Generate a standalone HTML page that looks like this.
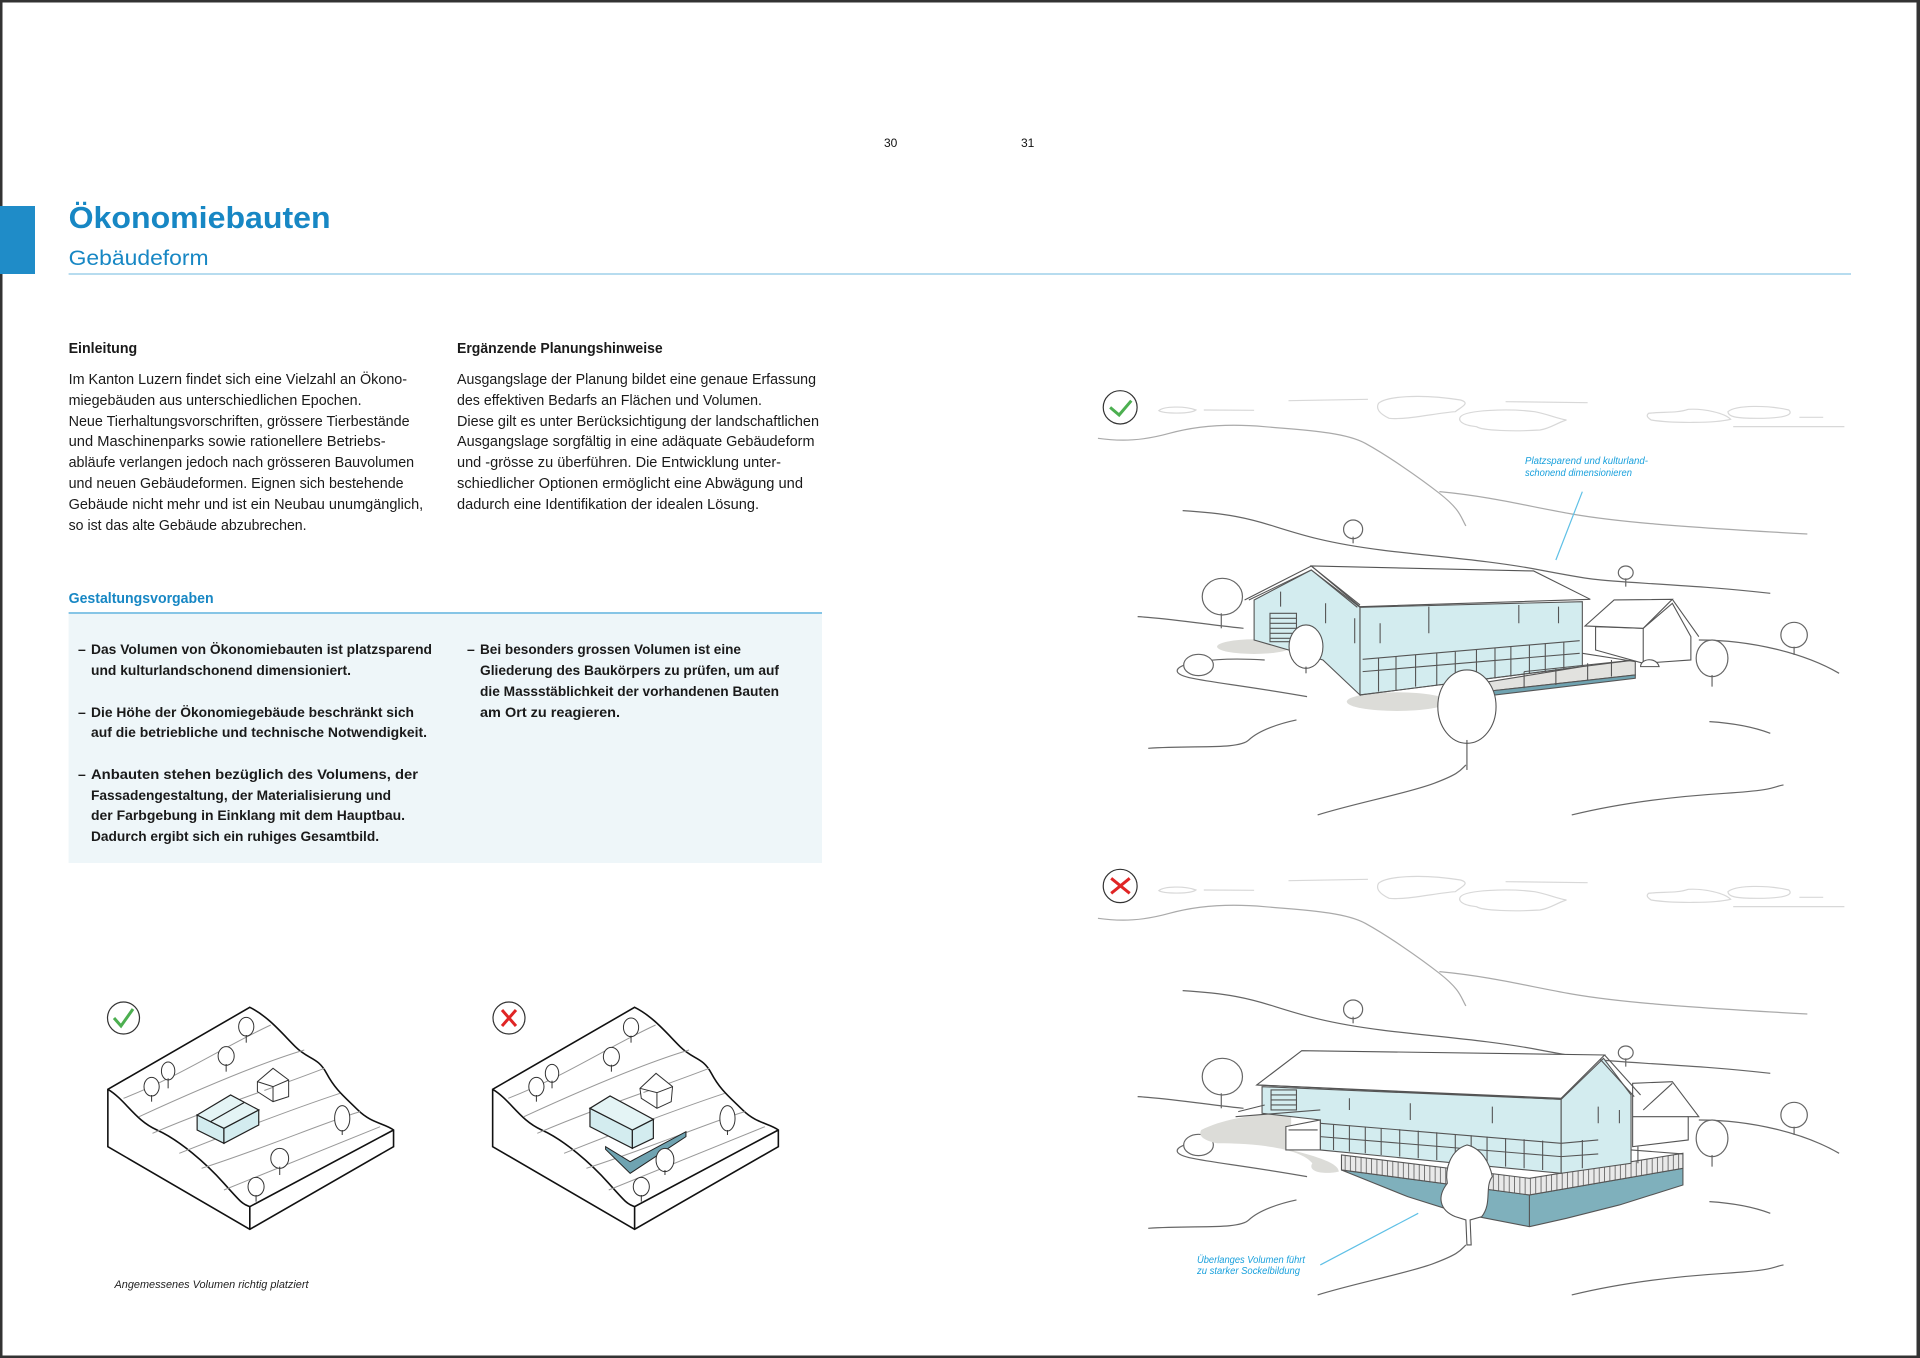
<!DOCTYPE html>
<html><head><meta charset="utf-8"><style>
html,body{margin:0;padding:0;background:#fff}
svg{display:block}
text{font-family:"Liberation Sans",sans-serif}
</style></head><body>
<svg width="1920" height="1358" viewBox="0 0 1920 1358" xmlns="http://www.w3.org/2000/svg">
<defs>
<pattern id="fence" patternUnits="userSpaceOnUse" width="10" height="10"><rect width="10" height="10" fill="#e9e9e9"/><line x1="2" y1="0" x2="2" y2="10" stroke="#555" stroke-width="1.5"/></pattern>
<g id="sky" fill="none" vector-effect="non-scaling-stroke">
 <g stroke="#d8d8d8" stroke-width="1.2">
  <path vector-effect="non-scaling-stroke" d="M130,122 C140,108 180,108 200,120 C190,132 140,132 130,122Z"/>
  <path vector-effect="non-scaling-stroke" d="M215,120 L310,121"/>
  <path vector-effect="non-scaling-stroke" d="M375,92 L525,88"/>
  <path vector-effect="non-scaling-stroke" d="M545,100 C560,80 620,70 700,90 C720,100 700,112 690,125 C650,130 600,150 565,145 C545,130 540,115 545,100Z"/>
  <path vector-effect="non-scaling-stroke" d="M700,140 C710,120 790,115 840,125 C860,130 880,145 900,150 C880,160 870,175 850,180 C800,185 740,182 730,170 C700,165 695,150 700,140Z"/>
  <path vector-effect="non-scaling-stroke" d="M785,95 L940,98"/>
  <path vector-effect="non-scaling-stroke" d="M1055,130 C1080,125 1110,130 1130,118 C1160,115 1200,130 1210,148 C1180,160 1100,160 1060,150 C1050,140 1052,135 1055,130Z"/>
  <path vector-effect="non-scaling-stroke" d="M1205,125 C1220,105 1280,105 1320,120 C1330,135 1310,145 1260,145 C1220,145 1205,140 1205,125Z"/>
  <path vector-effect="non-scaling-stroke" d="M1340,142 L1385,142"/>
  <path vector-effect="non-scaling-stroke" d="M1215,170 L1425,170"/>
 </g>
 <g stroke="#aaa" stroke-width="1.2">
  <path vector-effect="non-scaling-stroke" d="M15,205 C60,215 100,212 150,190 S260,160 330,170 S480,185 520,220 S620,320 660,370 S700,440 710,468"/>
  <path vector-effect="non-scaling-stroke" d="M660,365 C760,380 830,410 910,432 S1100,470 1355,492"/>
 </g>
 <g stroke="#666" stroke-width="1.2">
  <path vector-effect="non-scaling-stroke" d="M175,422 C260,430 300,445 350,470 S450,520 550,540 S750,570 850,600 S950,630 1050,640 S1200,655 1285,670"/>
  <path vector-effect="non-scaling-stroke" d="M90,740 C150,745 200,760 290,775"/>
  <path vector-effect="non-scaling-stroke" d="M110,1135 C200,1125 280,1140 300,1110 S360,1060 390,1050"/>
  <path vector-effect="non-scaling-stroke" d="M430,1335 C500,1300 600,1270 650,1240 S700,1200 710,1185"/>
  <path vector-effect="non-scaling-stroke" d="M910,1335 C1000,1300 1100,1280 1200,1270 S1290,1250 1310,1245"/>
  <path vector-effect="non-scaling-stroke" d="M1170,1055 C1220,1060 1260,1075 1285,1090"/>
  <path vector-effect="non-scaling-stroke" d="M1150,810 C1250,810 1350,850 1415,910"/>
  <path vector-effect="non-scaling-stroke" d="M330,870 C230,860 160,880 165,905 S250,935 410,980"/>
  <ellipse vector-effect="non-scaling-stroke" cx="497" cy="478" rx="18" ry="28" fill="#fff"/><path vector-effect="non-scaling-stroke" d="M497,500 L497,520"/>
  <ellipse vector-effect="non-scaling-stroke" cx="1012" cy="608" rx="14" ry="20" fill="#fff"/><path vector-effect="non-scaling-stroke" d="M1012,625 L1012,650"/>
  <ellipse vector-effect="non-scaling-stroke" cx="250" cy="680" rx="38" ry="55" fill="#fff"/><path vector-effect="non-scaling-stroke" d="M248,730 L248,775"/>
  <ellipse vector-effect="non-scaling-stroke" cx="1330" cy="795" rx="25" ry="38" fill="#fff"/><path vector-effect="non-scaling-stroke" d="M1330,830 L1330,855"/>
  <ellipse vector-effect="non-scaling-stroke" cx="1175" cy="865" rx="30" ry="55" fill="#fff"/><path vector-effect="non-scaling-stroke" d="M1175,915 L1175,950"/>
  <ellipse vector-effect="non-scaling-stroke" cx="205" cy="885" rx="28" ry="32" fill="#fff"/>
 </g>
</g>
</defs>

<rect x="1" y="1" width="1917" height="1356" fill="none" stroke="#333" stroke-width="3"/>
<rect x="1917" y="0" width="3" height="1358" fill="#333"/>

<text x="884" y="147" font-size="12" fill="#111">30</text>
<text x="1021" y="147" font-size="12" fill="#111">31</text>

<rect x="0" y="206" width="35" height="68" fill="#1f8cc8"/>
<text x="68.6" y="228" font-size="31" font-weight="bold" fill="#1787c4" textLength="262" lengthAdjust="spacingAndGlyphs">Ökonomiebauten</text>
<text x="68.6" y="265" font-size="21.5" fill="#1787c4" textLength="140" lengthAdjust="spacingAndGlyphs">Gebäudeform</text>
<line x1="68.6" y1="274" x2="1851" y2="274" stroke="#9fd0ea" stroke-width="1.5"/>

<g font-size="14.5" fill="#1a1a1a">
<text x="68.6" y="353" font-weight="bold" textLength="68.6" lengthAdjust="spacingAndGlyphs">Einleitung</text>
<text x="68.6" y="384" textLength="338.5" lengthAdjust="spacingAndGlyphs">Im Kanton Luzern findet sich eine Vielzahl an Ökono-</text>
<text x="68.6" y="405" textLength="293" lengthAdjust="spacingAndGlyphs">miegebäuden aus unterschiedlichen Epochen.</text>
<text x="68.6" y="426" textLength="341" lengthAdjust="spacingAndGlyphs">Neue Tierhaltungsvorschriften, grössere Tierbestände</text>
<text x="68.6" y="446" textLength="317" lengthAdjust="spacingAndGlyphs">und Maschinenparks sowie rationellere Betriebs-</text>
<text x="68.6" y="467" textLength="345.5" lengthAdjust="spacingAndGlyphs">abläufe verlangen jedoch nach grösseren Bauvolumen</text>
<text x="68.6" y="488" textLength="335" lengthAdjust="spacingAndGlyphs">und neuen Gebäudeformen. Eignen sich bestehende</text>
<text x="68.6" y="509" textLength="354.6" lengthAdjust="spacingAndGlyphs">Gebäude nicht mehr und ist ein Neubau unumgänglich,</text>
<text x="68.6" y="530" textLength="238" lengthAdjust="spacingAndGlyphs">so ist das alte Gebäude abzubrechen.</text>

<text x="457" y="353" font-weight="bold" textLength="205.7" lengthAdjust="spacingAndGlyphs">Ergänzende Planungshinweise</text>
<text x="457" y="384" textLength="359" lengthAdjust="spacingAndGlyphs">Ausgangslage der Planung bildet eine genaue Erfassung</text>
<text x="457" y="405" textLength="305" lengthAdjust="spacingAndGlyphs">des effektiven Bedarfs an Flächen und Volumen.</text>
<text x="457" y="426" textLength="362" lengthAdjust="spacingAndGlyphs">Diese gilt es unter Berücksichtigung der landschaftlichen</text>
<text x="457" y="446" textLength="357.5" lengthAdjust="spacingAndGlyphs">Ausgangslage sorgfältig in eine adäquate Gebäudeform</text>
<text x="457" y="467" textLength="324" lengthAdjust="spacingAndGlyphs">und -grösse zu überführen. Die Entwicklung unter-</text>
<text x="457" y="488" textLength="346" lengthAdjust="spacingAndGlyphs">schiedlicher Optionen ermöglicht eine Abwägung und</text>
<text x="457" y="509" textLength="302" lengthAdjust="spacingAndGlyphs">dadurch eine Identifikation der idealen Lösung.</text>
</g>

<text x="68.6" y="603" font-size="14.5" font-weight="bold" fill="#1787c4" textLength="145" lengthAdjust="spacingAndGlyphs">Gestaltungsvorgaben</text>
<rect x="68.6" y="614" width="753.4" height="249" fill="#eef6f9"/>
<line x1="68.6" y1="613" x2="822" y2="613" stroke="#5fb2de" stroke-width="1.5"/>
<g font-size="14" font-weight="bold" fill="#1a1a1a">
<text x="78" y="654">–</text><text x="91" y="654" textLength="341" lengthAdjust="spacingAndGlyphs">Das Volumen von Ökonomiebauten ist platzsparend</text>
<text x="91" y="675" textLength="260" lengthAdjust="spacingAndGlyphs">und kulturlandschonend dimensioniert.</text>
<text x="78" y="717">–</text><text x="91" y="717" textLength="323" lengthAdjust="spacingAndGlyphs">Die Höhe der Ökonomiegebäude beschränkt sich</text>
<text x="91" y="737" textLength="336" lengthAdjust="spacingAndGlyphs">auf die betriebliche und technische Notwendigkeit.</text>
<text x="78" y="779">–</text><text x="91" y="779" textLength="327" lengthAdjust="spacingAndGlyphs">Anbauten stehen bezüglich des Volumens, der</text>
<text x="91" y="800" textLength="300" lengthAdjust="spacingAndGlyphs">Fassadengestaltung, der Materialisierung und</text>
<text x="91" y="820" textLength="314" lengthAdjust="spacingAndGlyphs">der Farbgebung in Einklang mit dem Hauptbau.</text>
<text x="91" y="841" textLength="288" lengthAdjust="spacingAndGlyphs">Dadurch ergibt sich ein ruhiges Gesamtbild.</text>
<text x="467" y="654">–</text><text x="480" y="654" textLength="261" lengthAdjust="spacingAndGlyphs">Bei besonders grossen Volumen ist eine</text>
<text x="480" y="675" textLength="299" lengthAdjust="spacingAndGlyphs">Gliederung des Baukörpers zu prüfen, um auf</text>
<text x="480" y="696" textLength="299" lengthAdjust="spacingAndGlyphs">die Massstäblichkeit der vorhandenen Bauten</text>
<text x="480" y="717" textLength="140" lengthAdjust="spacingAndGlyphs">am Ort zu reagieren.</text>
</g>

<g transform="translate(90,990) scale(0.4464,0.3333)" fill="none">
 <g id="iso1">
  <path vector-effect="non-scaling-stroke" stroke="#111" stroke-width="1.6" fill="#fff" d="M40,298 L358,52 C400,80 430,130 460,170 S510,200 530,250 S570,320 600,360 S660,400 680,420 L680,470 L358,718 L40,470 Z"/>
  <path vector-effect="non-scaling-stroke" stroke="#111" stroke-width="1.6" d="M40,298 C80,330 100,390 150,420 S260,520 300,580 S340,640 358,650 L680,420 M358,650 L358,718"/>
  <g stroke="#999" stroke-width="1">
   <path vector-effect="non-scaling-stroke" d="M75,325 C200,260 300,170 405,105"/>
   <path vector-effect="non-scaling-stroke" d="M110,380 C240,300 380,220 480,180"/>
   <path vector-effect="non-scaling-stroke" d="M140,430 C280,350 420,290 525,235"/>
   <path vector-effect="non-scaling-stroke" d="M200,490 C350,410 470,350 560,310"/>
   <path vector-effect="non-scaling-stroke" d="M250,535 C400,470 520,400 605,365"/>
   <path vector-effect="non-scaling-stroke" d="M300,600 C450,520 560,460 650,410"/>
  </g>
 </g>
 <g stroke="#333" stroke-width="1" fill="#fff">
  <ellipse vector-effect="non-scaling-stroke" cx="350" cy="110" rx="17" ry="28"/><path vector-effect="non-scaling-stroke" d="M350,135 V158"/>
  <ellipse vector-effect="non-scaling-stroke" cx="305" cy="198" rx="18" ry="28"/><path vector-effect="non-scaling-stroke" d="M305,222 V245"/>
  <ellipse vector-effect="non-scaling-stroke" cx="175" cy="243" rx="15" ry="27"/><path vector-effect="non-scaling-stroke" d="M175,265 V295"/>
  <ellipse vector-effect="non-scaling-stroke" cx="138" cy="290" rx="17" ry="28"/><path vector-effect="non-scaling-stroke" d="M138,315 V335"/>
  <ellipse vector-effect="non-scaling-stroke" cx="565" cy="385" rx="17" ry="38"/><path vector-effect="non-scaling-stroke" d="M565,420 V435"/>
  <ellipse vector-effect="non-scaling-stroke" cx="425" cy="505" rx="20" ry="30"/><path vector-effect="non-scaling-stroke" d="M425,530 V555"/>
  <ellipse vector-effect="non-scaling-stroke" cx="372" cy="590" rx="18" ry="28"/><path vector-effect="non-scaling-stroke" d="M372,615 V635"/>
  <path vector-effect="non-scaling-stroke" d="M375,275 L410,235 L445,270 L445,320 L410,335 L375,305Z M410,335 L410,290 L375,275 M410,290 L445,270"/>
 </g>
 <g stroke="#222" stroke-width="1.2" fill="#d3ecef">
  <path vector-effect="non-scaling-stroke" d="M240,375 L300,415 L300,460 L240,420Z"/>
  <path vector-effect="non-scaling-stroke" d="M300,415 L378,360 L378,405 L300,460Z"/>
  <path vector-effect="non-scaling-stroke" d="M240,375 L315,315 L378,360 L300,415Z" fill="#e4f4f5"/>
  <path vector-effect="non-scaling-stroke" d="M270,395 L345,338"/>
 </g>
 <use href="#iso1" transform="translate(862,0)"/>
 <g stroke="#333" stroke-width="1" fill="#fff">
  <ellipse vector-effect="non-scaling-stroke" cx="1212" cy="112" rx="17" ry="28"/><path vector-effect="non-scaling-stroke" d="M1212,137 V158"/>
  <ellipse vector-effect="non-scaling-stroke" cx="1168" cy="200" rx="18" ry="28"/><path vector-effect="non-scaling-stroke" d="M1168,224 V245"/>
  <ellipse vector-effect="non-scaling-stroke" cx="1035" cy="250" rx="15" ry="27"/><path vector-effect="non-scaling-stroke" d="M1035,272 V295"/>
  <ellipse vector-effect="non-scaling-stroke" cx="1000" cy="290" rx="17" ry="28"/><path vector-effect="non-scaling-stroke" d="M1000,315 V335"/>
  <ellipse vector-effect="non-scaling-stroke" cx="1428" cy="385" rx="17" ry="38"/><path vector-effect="non-scaling-stroke" d="M1428,420 V435"/>
  <ellipse vector-effect="non-scaling-stroke" cx="1235" cy="590" rx="18" ry="28"/><path vector-effect="non-scaling-stroke" d="M1235,615 V635"/>
  <path vector-effect="non-scaling-stroke" d="M1232,295 L1268,250 L1305,290 L1302,335 L1270,355 L1235,325Z M1270,355 L1270,308 L1232,295 M1270,308 L1305,290"/>
 </g>
 <path vector-effect="non-scaling-stroke" stroke="#222" stroke-width="1" fill="#6fa3b1" d="M1155,470 L1210,515 L1335,425 L1335,440 L1210,550 L1155,478Z"/>
 <g stroke="#333" stroke-width="1" fill="#fff">
  <ellipse vector-effect="non-scaling-stroke" cx="1288" cy="510" rx="20" ry="35"/><path vector-effect="non-scaling-stroke" d="M1288,540 V555"/>
 </g>
 <g stroke="#222" stroke-width="1.2" fill="#d3ecef">
  <path vector-effect="non-scaling-stroke" d="M1120,355 L1215,420 L1215,475 L1120,410Z"/>
  <path vector-effect="non-scaling-stroke" d="M1215,420 L1262,388 L1262,445 L1215,475Z"/>
  <path vector-effect="non-scaling-stroke" d="M1120,355 L1165,318 L1262,388 L1215,420Z" fill="#e4f4f5"/>
 </g>
</g>
<!-- small icons in orig coords -->
<circle cx="123.5" cy="1018" r="16" stroke="#333" stroke-width="1.2" fill="#fff"/>
<path d="M114,1018 L121,1026 L133,1009" stroke="#4caf50" stroke-width="3" fill="none"/>
<circle cx="509" cy="1018" r="16" stroke="#333" stroke-width="1.2" fill="#fff"/>
<path d="M502,1010 L516,1026 M516,1010 L502,1026" stroke="#e02525" stroke-width="3" fill="none"/>
<text x="114.5" y="1288" font-size="11" font-style="italic" fill="#222" textLength="194" lengthAdjust="spacingAndGlyphs">Angemessenes Volumen richtig platziert</text>

<g transform="translate(1090,370) scale(0.5294,0.3333)" fill="none">
 <use href="#sky"/>
 <g stroke="#555" stroke-width="1.1">
  <ellipse vector-effect="non-scaling-stroke" cx="580" cy="995" rx="95" ry="28" fill="#dcdcd8" stroke="none"/>
  <ellipse vector-effect="non-scaling-stroke" cx="310" cy="830" rx="70" ry="22" fill="#dcdcd8" stroke="none"/>
  <path vector-effect="non-scaling-stroke" fill="#d3ecef" d="M310,690 L418,600 L510,712 L510,975 L440,870 L310,810Z"/>
  <path vector-effect="non-scaling-stroke" fill="#d3ecef" d="M510,712 L930,695 L930,890 L510,975Z"/>
  <path vector-effect="non-scaling-stroke" fill="#fff" d="M418,588 L838,603 L945,688 L510,710Z"/>
  <path vector-effect="non-scaling-stroke" d="M292,690 L418,588 L510,705 M300,690 L418,600 L505,712"/>
  <path vector-effect="non-scaling-stroke" d="M515,868 L925,812 M515,905 L925,850 M510,975 L930,890"/>
  <path vector-effect="non-scaling-stroke" d="M545,865 V965 M578,860 V960 M615,855 V950 M655,850 V945 M690,845 V940 M730,840 V930 M765,835 V925 M795,830 V920 M830,825 V912 M860,820 V905 M895,815 V900"/>
  <rect vector-effect="non-scaling-stroke" x="340" y="730" width="50" height="85" fill="#d3ecef"/>
  <path vector-effect="non-scaling-stroke" d="M340,745 H390 M340,760 H390 M340,775 H390 M340,790 H390 M340,805 H390"/>
  <path vector-effect="non-scaling-stroke" d="M360,665 V710 M445,700 V760 M640,710 V790 M810,705 V760 M885,710 V760 M548,760 V820 M500,745 V820"/>
  <path vector-effect="non-scaling-stroke" fill="#e2e2df" d="M735,940 L930,890 L1030,870 L1030,915 L745,965Z"/>
  <path vector-effect="non-scaling-stroke" fill="#6fa3b1" d="M745,965 L1030,915 L1030,925 L750,978Z"/>
  <path vector-effect="non-scaling-stroke" d="M820,905 V955 M880,895 V945 M940,880 V930 M985,870 V920 M930,850 L1030,875 M820,905 L1030,870"/>
  <path vector-effect="non-scaling-stroke" fill="#fff" d="M955,770 L955,840 L1045,880 L1135,870 L1135,800 L1100,700 L1045,775Z"/>
  <path vector-effect="non-scaling-stroke" fill="#fff" d="M935,768 L990,690 L1100,688 L1045,775Z"/>
  <path vector-effect="non-scaling-stroke" d="M1100,688 L1150,800 M1045,775 L1045,880"/>
  <path vector-effect="non-scaling-stroke" fill="#fff" d="M1040,890 C1040,865 1070,860 1075,890Z"/>
  <ellipse vector-effect="non-scaling-stroke" cx="408" cy="830" rx="32" ry="65" fill="#fff"/><path vector-effect="non-scaling-stroke" d="M408,890 V910"/>
  <ellipse vector-effect="non-scaling-stroke" cx="712" cy="1010" rx="55" ry="110" fill="#fff"/><path vector-effect="non-scaling-stroke" d="M712,1110 V1200"/>
 </g>
 <path vector-effect="non-scaling-stroke" d="M930,365 L880,570" stroke="#5fc0e6" stroke-width="1.2"/>
 <ellipse vector-effect="non-scaling-stroke" cx="57" cy="112" rx="32" ry="50" stroke="#333" stroke-width="1.2" fill="#fff"/>
 <path vector-effect="non-scaling-stroke" d="M38,112 L55,135 L78,92" stroke="#4caf50" stroke-width="3"/>
</g>
<text x="1525" y="464" font-size="10" font-style="italic" fill="#19a0dc" textLength="123" lengthAdjust="spacingAndGlyphs">Platzsparend und kulturland-</text>
<text x="1525" y="476" font-size="10" font-style="italic" fill="#19a0dc" textLength="107" lengthAdjust="spacingAndGlyphs">schonend dimensionieren</text>

<g transform="translate(1090,850) scale(0.5294,0.3333)" fill="none">
 <use href="#sky"/>
 <g stroke="#555" stroke-width="1.1">
  <path vector-effect="non-scaling-stroke" fill="#dcdcd8" stroke="none" d="M210,840 C260,800 330,790 380,790 L380,900 C430,920 470,940 470,965 C440,975 410,965 420,940 C400,900 330,880 240,880 C210,870 205,855 210,840Z"/>
  <path vector-effect="non-scaling-stroke" fill="#fff" d="M1025,700 L1100,695 L1150,800 L1130,800 L1130,870 L1025,890Z"/>
  <path vector-effect="non-scaling-stroke" d="M1045,780 L1100,700 M1025,800 L1130,800"/>
  <path vector-effect="non-scaling-stroke" fill="#7fb0bc" d="M475,960 L600,1040 L700,1090 L830,1130 L900,1105 L1000,1065 L1120,1005 L1120,955 L830,1035 L475,960Z"/>
  <path vector-effect="non-scaling-stroke" d="M830,1035 V1130"/>
  <path vector-effect="non-scaling-stroke" fill="url(#fence)" d="M475,915 L830,985 L1120,910 L1120,955 L830,1035 L475,960Z"/>
  <path vector-effect="non-scaling-stroke" fill="#d3ecef" d="M325,710 L890,748 L890,970 L435,900 L435,810 L325,790Z"/>
  <path vector-effect="non-scaling-stroke" fill="#d3ecef" d="M890,748 L970,625 L1022,735 L1022,940 L890,970Z"/>
  <path vector-effect="non-scaling-stroke" fill="#fff" d="M315,705 L400,602 L972,615 L890,745Z"/>
  <path vector-effect="non-scaling-stroke" d="M972,615 L1040,735 M965,630 L1028,740 M315,705 L890,748"/>
  <path vector-effect="non-scaling-stroke" d="M435,820 L890,880 M435,860 L890,920 M890,880 L960,870 M890,920 L960,912"/>
  <path vector-effect="non-scaling-stroke" d="M460,822 V900 M490,826 V905 M520,830 V910 M550,834 V915 M585,838 V920 M620,842 V925 M655,847 V930 M690,852 V935 M720,856 V940 M750,860 V945 M785,864 V950 M820,868 V955 M855,872 V960 M930,870 V955"/>
  <rect vector-effect="non-scaling-stroke" x="342" y="720" width="48" height="60" fill="#d3ecef"/>
  <path vector-effect="non-scaling-stroke" d="M342,735 H390 M342,750 H390 M342,765 H390"/>
  <path vector-effect="non-scaling-stroke" d="M490,745 V780 M605,760 V810 M760,770 V820 M960,770 V820 M1000,780 V820"/>
  <path vector-effect="non-scaling-stroke" fill="#fff" d="M370,830 L435,810 L435,900 L370,900Z"/>
  <path vector-effect="non-scaling-stroke" d="M275,800 L435,780 M280,785 L330,765 M375,840 H430"/>
  <path vector-effect="non-scaling-stroke" d="M1022,900 L1120,912 M1035,890 V940"/>
  <path vector-effect="non-scaling-stroke" fill="#fff" d="M712,885 C680,900 670,960 675,1000 C655,1040 660,1080 690,1100 L710,1110 L712,1185 L720,1185 L718,1110 L740,1100 C760,1060 745,1010 760,980 C755,940 740,895 712,885Z"/>
 </g>
 <path vector-effect="non-scaling-stroke" d="M620,1090 L435,1245" stroke="#5fc0e6" stroke-width="1.2"/>
 <ellipse vector-effect="non-scaling-stroke" cx="57" cy="108" rx="32" ry="50" stroke="#333" stroke-width="1.2" fill="#fff"/>
 <path vector-effect="non-scaling-stroke" d="M40,85 L75,130 M75,85 L40,130" stroke="#e02525" stroke-width="3"/>
</g>
<text x="1197" y="1263" font-size="10" font-style="italic" fill="#19a0dc" textLength="108" lengthAdjust="spacingAndGlyphs">Überlanges Volumen führt</text>
<text x="1197" y="1274" font-size="10" font-style="italic" fill="#19a0dc" textLength="103" lengthAdjust="spacingAndGlyphs">zu starker Sockelbildung</text>
</svg>
</body></html>
